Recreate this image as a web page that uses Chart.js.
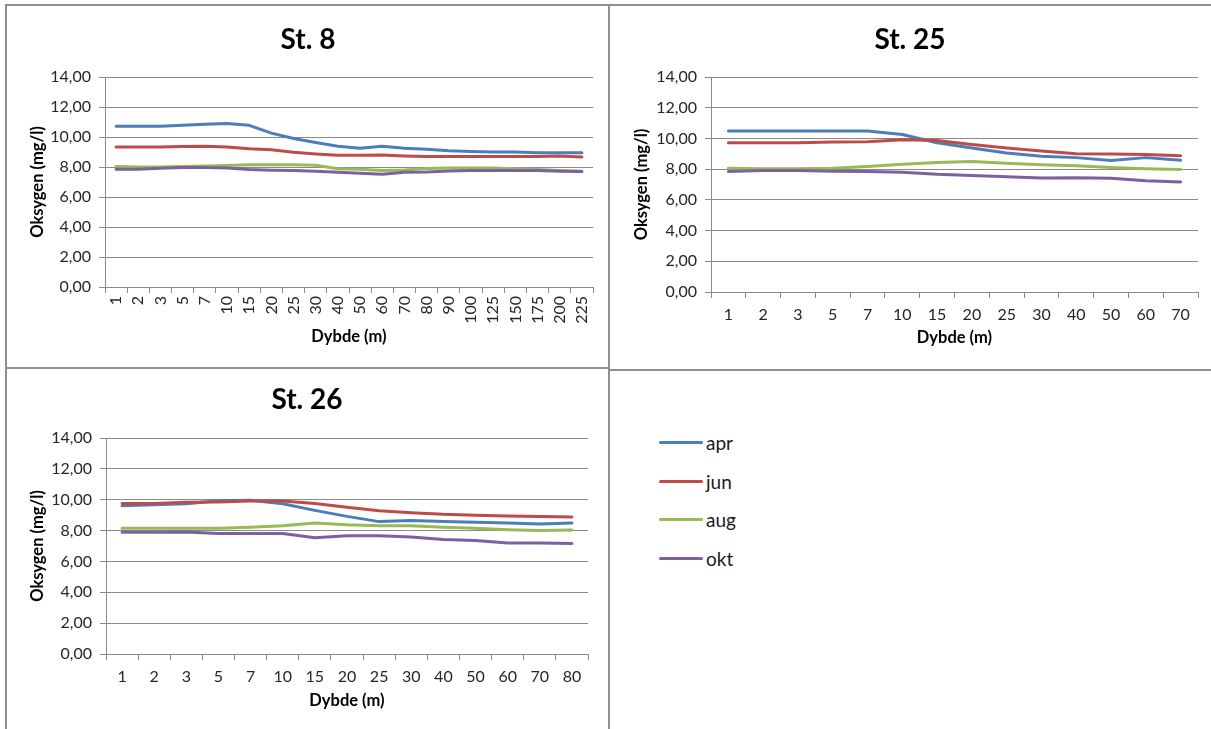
<!DOCTYPE html>
<html>
<head>
<meta charset="utf-8">
<script src="https://cdn.jsdelivr.net/npm/chart.js@4"></script>
<style>
	body { margin: 0; background: #fff; }
	#wrap { position: relative; width: 1211px; height: 729px; overflow: hidden; background: #fff; }
	.hl, .vl { position: absolute; background: #8f8f8f; }
	.box { position: absolute; }
	#legend { position: absolute; left: 659px; top: 423px; font-family: Lato, sans-serif; font-size: 19px; color: #1a1a1a; }
	#legend .item { height: 38.7px; display: flex; align-items: center; }
	#legend .sw { width: 44px; height: 3px; border-radius: 2px; margin-right: 3px; }
</style>
</head>
<body>
<div id="wrap">
	<div class="hl" style="left:5px;top:4px;width:1206px;height:2px"></div>
	<div class="vl" style="left:5px;top:4px;width:2px;height:725px"></div>
	<div class="vl" style="left:608px;top:4px;width:2px;height:725px"></div>
	<div class="hl" style="left:5px;top:367px;width:604px;height:2px"></div>
	<div class="hl" style="left:609px;top:369px;width:602px;height:2px"></div>

	<div class="box" style="left:7px;top:6px"><canvas id="c1" width="601" height="361"></canvas></div>
	<div class="box" style="left:611px;top:6px"><canvas id="c2" width="600" height="363"></canvas></div>
	<div class="box" style="left:7px;top:370px"><canvas id="c3" width="601" height="359"></canvas></div>
	<div id="legend"></div>
</div>
<script>
var seriesNames = ['apr', 'jun', 'aug', 'okt'];
var seriesColors = ['#4a7ebb', '#be4b48', '#98b954', '#7d60a0'];

var depth8 = ['1','2','3','5','7','10','15','20','25','30','40','50','60','70','80','90','100','125','150','175','200','225'];
var st8Apr = [10.72,10.72,10.72,10.78,10.85,10.90,10.78,10.26,9.90,9.63,9.38,9.25,9.38,9.25,9.18,9.08,9.03,9.00,9.00,8.95,8.95,8.95];
var st8Jun = [9.33,9.33,9.33,9.37,9.38,9.33,9.22,9.15,8.98,8.87,8.78,8.78,8.80,8.74,8.70,8.70,8.70,8.70,8.70,8.70,8.74,8.67];
var st8Aug = [8.04,8.00,8.00,8.04,8.06,8.10,8.15,8.15,8.15,8.12,7.89,7.85,7.76,7.80,7.90,7.93,7.93,7.93,7.89,7.83,7.76,7.72];
var st8Okt = [7.85,7.85,7.91,7.96,7.96,7.93,7.83,7.78,7.76,7.72,7.65,7.59,7.52,7.65,7.67,7.74,7.76,7.76,7.76,7.76,7.72,7.70];

var depth25 = ['1','2','3','5','7','10','15','20','25','30','40','50','60','70'];
var st25Apr = [10.49,10.49,10.49,10.49,10.49,10.26,9.72,9.38,9.05,8.84,8.75,8.56,8.75,8.58];
var st25Jun = [9.72,9.72,9.72,9.76,9.78,9.91,9.87,9.61,9.38,9.18,9.01,8.99,8.95,8.88];
var st25Aug = [8.06,8.02,8.02,8.06,8.17,8.32,8.43,8.49,8.39,8.28,8.22,8.11,8.02,7.98];
var st25Okt = [7.85,7.91,7.91,7.87,7.85,7.79,7.66,7.59,7.51,7.42,7.44,7.40,7.25,7.16];

var depth26 = ['1','2','3','5','7','10','15','20','25','30','40','50','60','70','80'];
var st26Apr = [9.61,9.68,9.74,9.94,9.96,9.74,9.31,8.92,8.58,8.65,8.58,8.54,8.49,8.43,8.49];
var st26Jun = [9.76,9.76,9.83,9.85,9.91,9.91,9.76,9.51,9.29,9.16,9.05,8.99,8.95,8.92,8.88];
var st26Aug = [8.15,8.15,8.15,8.15,8.22,8.32,8.49,8.37,8.32,8.32,8.22,8.15,8.06,8.00,8.04];
var st26Okt = [7.89,7.89,7.91,7.81,7.81,7.81,7.53,7.66,7.66,7.59,7.42,7.35,7.20,7.20,7.16];

var yMin = 0, yMax = 14, yStep = 2;
var font = 'Lato, sans-serif';
var gridColor = '#8a8a8a';

function makeChart(id, title, labels, values, lay) {
	var datasets = [];
	for (var i in values) {
		datasets.push({
			label: seriesNames[i],
			data: values[i],
			borderColor: seriesColors[i],
			backgroundColor: seriesColors[i],
			borderWidth: 3,
			pointRadius: 0,
			tension: 0,
			borderCapStyle: 'round',
			borderJoinStyle: 'round',
			order: 4 - i
		});
	}

	return new Chart(document.getElementById(id), {
		type: 'line',
		data: { labels: labels, datasets: datasets },
		options: {
			responsive: false,
			animation: false,
			layout: { padding: { left: lay.left, right: lay.right, top: 0, bottom: 0 } },
			plugins: {
				legend: { display: false },
				tooltip: { enabled: false },
				title: {
					display: true,
					text: title,
					color: '#000',
					font: { family: font, size: 28, weight: 'bold', lineHeight: 1.2 },
					padding: { top: lay.titleTop, bottom: lay.titleBottom }
				}
			},
			scales: {
				x: {
					offset: true,
					grid: { offset: true, drawOnChartArea: false, drawTicks: true, tickLength: 6, color: gridColor },
					border: { display: true, color: gridColor },
					ticks: {
						autoSkip: false,
						minRotation: lay.rot,
						maxRotation: lay.rot,
						padding: lay.xPad,
						color: '#262626',
						font: { family: font, size: 16 }
					},
					title: {
						display: true,
						text: 'Dybde (m)',
						color: '#000',
						font: { family: font, size: 16.5, weight: 'bold', lineHeight: 1.2 },
						padding: { top: 0, bottom: lay.xTitle }
					},
					afterFit: function(scale) { scale.height = lay.xH; }
				},
				y: {
					min: yMin,
					max: yMax,
					ticks: {
						stepSize: yStep,
						padding: 8,
						color: '#262626',
						font: { family: font, size: 16 },
						callback: function(v) { return v.toFixed(2).replace('.', ','); }
					},
					grid: { drawTicks: true, tickLength: 6, color: gridColor },
					border: { display: true, color: gridColor },
					title: {
						display: true,
						text: 'Oksygen (mg/l)',
						color: '#000',
						font: { family: font, size: 16.5, weight: 'bold', lineHeight: 1.2 },
						padding: { top: lay.yTitle, bottom: 0 }
					},
					afterFit: function(scale) { scale.width = lay.yW; }
				}
			}
		}
	});
}

makeChart('c1', 'St. 8', depth8, [st8Apr, st8Jun, st8Aug, st8Okt],
	{ left: 16, right: 15, titleTop: 17.2, titleBottom: 20.2, rot: 90, xPad: 3, xH: 80, xTitle: 20.1, yTitle: 5.1, yW: 82 });
makeChart('c2', 'St. 25', depth25, [st25Apr, st25Jun, st25Aug, st25Okt],
	{ left: 11, right: 13, titleTop: 17.2, titleBottom: 20.2, rot: 0, xPad: 7, xH: 77, xTitle: 21.1, yTitle: 10.1, yW: 89 });
makeChart('c3', 'St. 26', depth26, [st26Apr, st26Jun, st26Aug, st26Okt],
	{ left: 19, right: 20, titleTop: 13.2, titleBottom: 21.2, rot: 0, xPad: 7, xH: 75, xTitle: 18.1, yTitle: 2.1, yW: 80 });

// legend panel
var legend = document.getElementById('legend');
for (var i in seriesNames) {
	var item = document.createElement('div');
	item.className = 'item';
	var sw = document.createElement('span');
	sw.className = 'sw';
	sw.style.background = seriesColors[i];
	var txt = document.createElement('span');
	txt.textContent = seriesNames[i];
	item.appendChild(sw);
	item.appendChild(txt);
	legend.appendChild(item);
}
</script>
</body>
</html>
